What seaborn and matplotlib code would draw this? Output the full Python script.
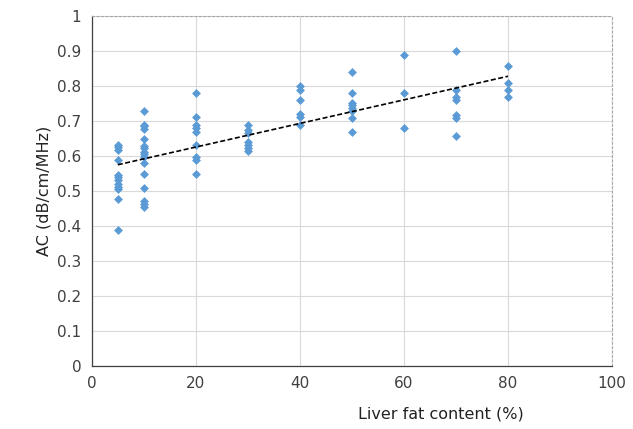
import numpy as np
import pandas as pd
import matplotlib
matplotlib.use("Agg")
import matplotlib.pyplot as plt
import seaborn as sns

# Liver fat content (%) groups and attenuation coefficient values
fat_5 = [0.63, 0.625, 0.617, 0.589, 0.546, 0.539, 0.531, 0.52, 0.512, 0.506, 0.477, 0.389]
fat_10 = [0.729, 0.689, 0.684, 0.677, 0.649, 0.629, 0.622, 0.612, 0.605, 0.597,
          0.579, 0.549, 0.508, 0.471, 0.462, 0.455]
fat_20 = [0.78, 0.712, 0.689, 0.679, 0.668, 0.631, 0.596, 0.589, 0.549]
fat_30 = [0.689, 0.674, 0.665, 0.641, 0.631, 0.622, 0.615]
fat_40 = [0.80, 0.789, 0.76, 0.719, 0.71, 0.687]
fat_50 = [0.839, 0.779, 0.75, 0.744, 0.736, 0.729, 0.709, 0.668]
fat_60 = [0.889, 0.779, 0.679]
fat_70 = [0.90, 0.789, 0.768, 0.76, 0.717, 0.708, 0.658]
fat_80 = [0.858, 0.808, 0.789, 0.768]

groups = {5: fat_5, 10: fat_10, 20: fat_20, 30: fat_30, 40: fat_40,
          50: fat_50, 60: fat_60, 70: fat_70, 80: fat_80}

x_ticks = [0, 20, 40, 60, 80, 100]
y_ticks = [0, 0.1, 0.2, 0.3, 0.4, 0.5, 0.6, 0.7, 0.8, 0.9, 1]
y_tick_labels = ["0", "0.1", "0.2", "0.3", "0.4", "0.5", "0.6", "0.7", "0.8", "0.9", "1"]

rows = []
for fat, vals in groups.items():
    for v in vals:
        rows.append({"fat": fat, "ac": v})
df = pd.DataFrame(rows)

sns.set_style("white")
plt.rcParams["font.family"] = ["DejaVu Sans"]

fig = plt.figure(figsize=(6.33, 4.29), dpi=100)
ax = fig.add_axes([0.145, 0.147, 0.822, 0.816])

sns.scatterplot(data=df, x="fat", y="ac", marker="D", s=16, color="#5B9BD5",
                edgecolor="#5B9BD5", linewidth=0.5, ax=ax, zorder=3)

# linear trend line over the data range
coef = np.polyfit(df["fat"], df["ac"], 1)
xs = np.array([df["fat"].min(), df["fat"].max()])
sns.lineplot(x=xs, y=np.polyval(coef, xs), color="black", linestyle=(0, (3, 1.5)),
             linewidth=1.2, ax=ax, zorder=4)

ax.set_xlim(0, 100)
ax.set_ylim(0, 1)
ax.set_xticks(x_ticks)
ax.set_yticks(y_ticks)
ax.set_yticklabels(y_tick_labels)
ax.grid(True, color="#d9d9d9", linewidth=0.8)
ax.set_axisbelow(True)

for side in ["left", "bottom"]:
    ax.spines[side].set_color("#404040")
    ax.spines[side].set_linewidth(0.9)
for side in ["top", "right"]:
    ax.spines[side].set_color("#a6a6a6")
    ax.spines[side].set_linestyle((0, (2, 2)))
    ax.spines[side].set_linewidth(0.8)

ax.tick_params(axis="both", direction="out", length=4, width=0.8, color="#404040",
               labelsize=11, labelcolor="#404040")

ax.set_xlabel("Liver fat content (%)", fontsize=11.5, color="#222222")
ax.set_ylabel("AC (dB/cm/MHz)", fontsize=11.5, color="#222222")
ax.xaxis.set_label_coords(0.67, -0.115)

fig.savefig("out.png", dpi=100)
